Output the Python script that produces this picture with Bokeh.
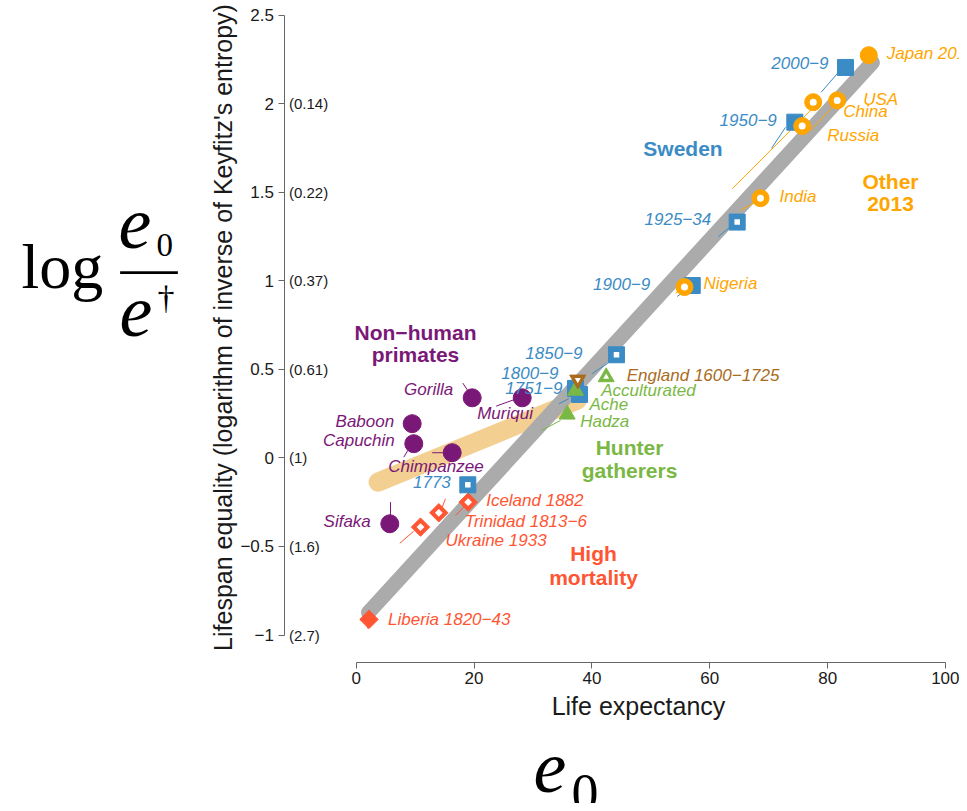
import numpy as np
from bokeh.plotting import figure
from bokeh.models import ColumnDataSource, Label, FixedTicker, CustomJSTickFormatter, Range1d
from bokeh.embed import file_html
from bokeh.resources import INLINE
from bokeh.core.properties import value

# ---------------- data ----------------
x_ticks = [0, 20, 40, 60, 80, 100]
y_ticks = [-1, -0.5, 0, 0.5, 1, 1.5, 2, 2.5]
entropy_ticks = [-1, -0.5, 0, 0.5, 1, 1.5, 2]
entropy_labels = ["(2.7)", "(1.6)", "(1)", "(0.61)", "(0.37)", "(0.22)", "(0.14)"]

sweden_names = ["2000−9", "1950−9", "1925−34", "1900−9", "1850−9", "1800−9", "1751−9", "1773"]
sweden_e0 = [83.03, 74.43, 64.65, 57.02, 44.17, 37.21, 37.89, 18.94]
sweden_eq = [2.204, 1.895, 1.331, 0.973, 0.582, 0.392, 0.358, -0.152]
sweden_filled = [True, True, False, True, False, True, True, False]

other_names = ["Japan 2013", "USA", "China", "Russia", "India", "Nigeria"]
other_e0 = [86.98, 81.62, 77.55, 75.68, 68.61, 55.71]
other_eq = [2.273, 2.018, 2.008, 1.873, 1.466, 0.964]
other_filled = [True, False, False, False, False, False]

hunter_names = ["Acculturated", "Ache", "Hadza"]
hunter_e0 = [42.42, 37.21, 35.80]
hunter_eq = [0.456, 0.380, 0.245]
hunter_filled = [False, True, True]

england_names = ["England 1600−1725"]
england_e0 = [37.60]
england_eq = [0.441]
england_filled = [False]

primate_names = ["Gorilla", "Muriqui", "Baboon", "Capuchin", "Chimpanzee", "Sifaka"]
primate_e0 = [19.68, 28.17, 9.50, 9.77, 16.29, 5.70]
primate_eq = [0.339, 0.339, 0.193, 0.080, 0.029, -0.372]

highmort_names = ["Iceland 1882", "Trinidad 1813−6", "Ukraine 1933", "Liberia 1820−43"]
highmort_e0 = [19.00, 14.02, 10.91, 2.17]
highmort_eq = [-0.250, -0.310, -0.391, -0.912]
highmort_filled = [False, False, False, True]

# fitted bands
human_band_e0 = [2.09, 87.6]
human_band_eq = [-0.873, 2.232]
primate_band_e0 = [3.71, 37.5]
primate_band_eq = [-0.137, 0.325]

# thin connector lines (x0, y0, x1, y1)
sweden_lead_x0 = [78.91, 70.47, 61.48, 54.47, 40.05, 34.38, 17.70]
sweden_lead_y0 = [2.064, 1.747, 1.250, 0.911, 0.475, 0.305, -0.201]
sweden_lead_x1 = [81.84, 72.85, 63.35, 55.88, 43.15, 36.08, 18.21]
sweden_lead_y1 = [2.177, 1.866, 1.301, 0.945, 0.545, 0.334, -0.178]

other_lead_x0 = [63.80, 77.09, 65.21, 54.18]
other_lead_y0 = [1.519, 1.848, 1.397, 0.930]
other_lead_x1 = [77.26, 81.05, 67.76, 55.03]
other_lead_y1 = [1.967, 1.989, 1.443, 0.949]

hunter_lead_x0 = [31.44]
hunter_lead_y0 = [0.155]
hunter_lead_x1 = [34.67]
hunter_lead_y1 = [0.211]

primate_lead_x0 = [18.09, 23.76, 8.08, 12.90, 5.82]
primate_lead_y0 = [0.422, 0.292, 0.004, 0.029, -0.250]
primate_lead_x1 = [19.11, 26.74, 8.76, 15.44, 5.82]
primate_lead_y1 = [0.371, 0.328, 0.042, 0.029, -0.325]

highmort_lead_x0 = [16.85, 14.59, 7.40, 1.92]
highmort_lead_y0 = [-0.325, -0.278, -0.482, -0.963]
highmort_lead_x1 = [18.26, 15.15, 9.77, 2.14]
highmort_lead_y1 = [-0.278, -0.231, -0.414, -0.929]

# ---------------- styles ----------------
BLUE = "#3b8bc5"
ORANGE = "#ffa500"
PURPLE = "#7a1877"
GREEN = "#7ab845"
RED = "#ff5533"
BROWN = "#a96b1c"
GREY = "#ababab"
TAN = "#f3cf92"
FONT = "Liberation Sans"
SERIF = "Liberation Serif"

# label pixel offsets (dx, dy, align)
sweden_off = [(-17, -4, "right"), (-18, -2, "right"), (-26, -3, "right"), (-42, -2, "right"),
              (-34, -2, "right"), (-17, -15, "right"), (-17, -6, "right"), (-17, -3, "right")]
other_off = [(18, -2, "left"), (26, -1, "left"), (30, 9, "left"), (25, 9, "left"),
             (19, -2, "left"), (19, -4, "left")]
hunter_off = [(-5, 13, "left"), (14, 14, "left"), (13, 7, "left")]
england_off = [(49, -4, "left")]
primate_off = [(-19, -8, "right"), (-45, 16, "left"), (-18, -2, "right"), (-19, -3, "right"),
               (-64, 14, "left"), (-19, -2, "right")]
highmort_off = [(18, -2, "left"), (26, 9, "left"), (25, 13, "left"), (19, 0, "left")]

# ---------------- figure geometry (frame fills the canvas) ----------------
W, H = 959, 803
X0_PX, SX = 355.7, 5.893      # page x of e0 = 0, pixels per year
Y0_PX, SY = 457.36, 177.14    # page y of equality = 0, pixels per unit
XS, XE = (0 - X0_PX) / SX, (W - X0_PX) / SX
YS, YE = (Y0_PX - H) / SY, Y0_PX / SY


def px(xp):  # page x -> data x
    return (xp - X0_PX) / SX


def py(yp):  # page y -> data y
    return (Y0_PX - yp) / SY


p = figure(width=W, height=H, output_backend="svg", toolbar_location=None,
           x_range=Range1d(XS, XE), y_range=Range1d(YS, YE), min_border=0)
p.outline_line_color = None
p.grid.visible = False
p.background_fill_color = "white"
p.border_fill_color = "white"

fmt = CustomJSTickFormatter(code="return tick < 0 ? '\u2212' + String(-tick) : String(tick);")
for ax, ticks, bounds, loc in ((p.xaxis[0], x_ticks, (0, 100), py(661.5)),
                               (p.yaxis[0], y_ticks, (-1, 2.5), px(283.5))):
    ax.ticker = FixedTicker(ticks=ticks)
    ax.formatter = fmt
    ax.bounds = bounds
    ax.fixed_location = loc
    ax.axis_line_color = "#666666"
    ax.major_tick_line_color = "#666666"
    ax.major_tick_out = 6
    ax.major_tick_in = 0
    ax.minor_tick_line_color = None
    ax.major_label_text_font = FONT
    ax.major_label_text_font_size = "17px"
    ax.major_label_text_color = "#1a1a1a"
    ax.major_label_standoff = 4

# bands
p.line(primate_band_e0, primate_band_eq, line_width=19, line_color=TAN, line_cap="round")
p.line(human_band_e0, human_band_eq, line_width=15, line_color=GREY, line_cap="round")

# connectors
for x0, y0, x1, y1, c in ((sweden_lead_x0, sweden_lead_y0, sweden_lead_x1, sweden_lead_y1, BLUE),
                          (other_lead_x0, other_lead_y0, other_lead_x1, other_lead_y1, ORANGE),
                          (hunter_lead_x0, hunter_lead_y0, hunter_lead_x1, hunter_lead_y1, GREEN),
                          (primate_lead_x0, primate_lead_y0, primate_lead_x1, primate_lead_y1, PURPLE),
                          (highmort_lead_x0, highmort_lead_y0, highmort_lead_x1, highmort_lead_y1, RED)):
    p.segment(x0=x0, y0=y0, x1=x1, y1=y1, line_color=c, line_width=1)


def add_markers(xs, ys, filled, marker, size, inner, color, angle=0.0):
    p.scatter(xs, ys, marker=marker, size=size, fill_color=color, line_color=color, angle=angle)
    hx = [x for x, f in zip(xs, filled) if not f]
    hy = [y for y, f in zip(ys, filled) if not f]
    if hx:
        p.scatter(hx, hy, marker=marker, size=inner, fill_color="white", line_color=None, angle=angle)


def add_labels(xs, ys, names, offs, color, size="17px"):
    for align in ("left", "right"):
        idx = [i for i, o in enumerate(offs) if o[2] == align]
        if not idx:
            continue
        src = ColumnDataSource(dict(x=[xs[i] for i in idx], y=[ys[i] for i in idx],
                                    t=[names[i] for i in idx],
                                    dx=[offs[i][0] for i in idx], dy=[offs[i][1] for i in idx]))
        p.text(x="x", y="y", text="t", x_offset="dx", y_offset="dy", source=src,
               text_align=align, text_baseline="middle", text_color=color,
               text_font=value(FONT), text_font_size=size, text_font_style="italic")


add_markers(primate_e0, primate_eq, [True] * len(primate_e0), "circle", 18, 0, PURPLE)
add_markers(highmort_e0, highmort_eq, highmort_filled, "square", 13, 5.5, RED, angle=np.pi / 4)
add_markers(sweden_e0, sweden_eq, sweden_filled, "square", 16, 5.5, BLUE)
add_markers(other_e0, other_eq, other_filled, "circle", 17, 7, ORANGE)
add_markers(hunter_e0, hunter_eq, hunter_filled, "triangle", 16, 6, GREEN)
add_markers(england_e0, england_eq, england_filled, "inverted_triangle", 16, 6, BROWN)

add_labels(sweden_e0, sweden_eq, sweden_names, sweden_off, BLUE)
add_labels(other_e0, other_eq, other_names, other_off, ORANGE)
add_labels(hunter_e0, hunter_eq, hunter_names, hunter_off, GREEN)
add_labels(england_e0, england_eq, england_names, england_off, BROWN)
add_labels(primate_e0, primate_eq, primate_names, primate_off, PURPLE)
add_labels(highmort_e0, highmort_eq, highmort_names, highmort_off, RED)

# group titles
for txt, xp, yp, c in (("Sweden", 682.5, 148, BLUE),
                       ("Other", 890, 181, ORANGE), ("2013", 890, 203, ORANGE),
                       ("Non−human", 415, 332, PURPLE), ("primates", 415, 354, PURPLE),
                       ("Hunter", 629, 447, GREEN), ("gatherers", 629, 470, GREEN),
                       ("High", 593, 553, RED), ("mortality", 593, 577, RED)):
    p.add_layout(Label(x=px(xp), y=py(yp), text=txt, text_color=c, text_font=FONT,
                       text_font_size="21px", text_font_style="bold",
                       text_align="center", text_baseline="middle"))

# entropy (e-dagger) values beside the y axis
for t, lab in zip(entropy_ticks, entropy_labels):
    p.add_layout(Label(x=px(283.5), y=t, x_offset=5, text=lab, text_font=FONT,
                       text_font_size="15px", text_color="#1a1a1a",
                       text_align="left", text_baseline="middle"))

# axis titles
p.add_layout(Label(x=px(638), y=py(705), text="Life expectancy", text_font=FONT,
                   text_font_size="25px", text_color="#1a1a1a",
                   text_align="center", text_baseline="middle"))
p.add_layout(Label(x=px(222), y=py(327), angle=np.pi / 2,
                   text="Lifespan equality (logarithm of inverse of Keyfitz's entropy)",
                   text_font=FONT, text_font_size="25px", text_color="#1a1a1a",
                   text_align="center", text_baseline="middle"))


# mathematical annotations (yp = desired baseline in page pixels)
def math_label(txt, xp, yp, size, italic=False):
    p.add_layout(Label(x=px(xp), y=py(yp - 0.4 * size), text=txt, text_font=SERIF,
                       text_font_size=f"{size}px",
                       text_font_style="italic" if italic else "normal", text_color="black",
                       text_align="left", text_baseline="alphabetic"))


math_label("log", 21, 292, 64)
math_label("e", 118, 253, 74, italic=True)
math_label("0", 156, 258, 33)
math_label("\u2014", 120, 289, 57)
math_label("e", 119, 341, 74, italic=True)
math_label("\u2020", 157, 311, 34)
math_label("e", 533, 797, 74, italic=True)
math_label("0", 571, 814, 54)

open("out.html", "w").write(file_html(p, INLINE))
